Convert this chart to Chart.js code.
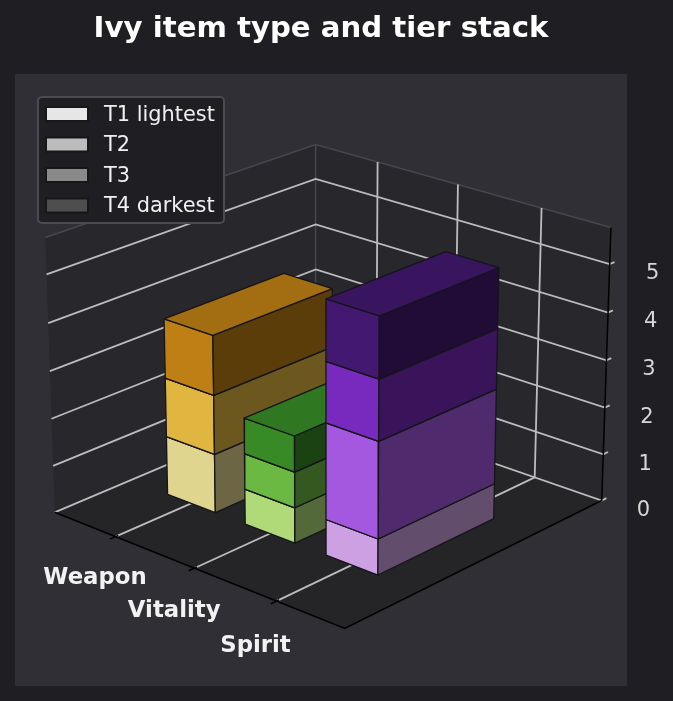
<!DOCTYPE html>
<html>
<head>
<meta charset="utf-8">
<title>Ivy item type and tier stack</title>
<script src="https://cdn.jsdelivr.net/npm/chart.js@4/dist/chart.umd.min.js"></script>
<style>
  html, body { margin: 0; padding: 0; background: #1f1f23; }
  canvas { display: block; }
</style>
</head>
<body>
<canvas id="chart" width="673" height="701"></canvas>
<script>
const categories = ['Weapon', 'Vitality', 'Spirit'];
const tierLabels = ['T1 lightest', 'T2', 'T3', 'T4 darkest'];
const t1Values = [1.25, 0.75, 0.75];
const t2Values = [1.25, 0.75, 2];
const t3Values = [1.25, 0.75, 1.25];
const t4Values = [0, 0, 1.25];
const zTicks = [0, 1, 2, 3, 4, 5];

const weaponColors = ['#e0d58e', '#e0b640', '#be8014', '#8a5c0c'];
const vitalityColors = ['#b0da78', '#6bb842', '#388a26', '#1d5a14'];
const spiritColors = ['#cca0e2', '#a458e0', '#782abe', '#421870'];
const legendColors = ['#e6e6e6', '#bcbcbc', '#8a8a8a', '#4e4e4e'];

const tiers = [t1Values, t2Values, t3Values, t4Values];
const palettes = [weaponColors, vitalityColors, spiritColors];

const xLim = [-0.8, 2.8];
const yLim = [-0.9, 0.9];
const zLim = [0, 5.75];
const barWidth = 0.62;
const barDepth = 0.81;

// camera, same model as a matplotlib 3d axes
const elev = 22 * Math.PI / 180;
const azim = -48 * Math.PI / 180;
const dist = 10;
const box = [1.1905, 1.1905, 0.8929];
const viewScale = 3308;
const viewCenter = [329.3, 371.7];

const w = [Math.cos(elev) * Math.cos(azim), Math.cos(elev) * Math.sin(azim), Math.sin(elev)];
const u = [-Math.sin(azim), Math.cos(azim), 0];
const v = [w[1] * u[2] - w[2] * u[1], w[2] * u[0] - w[0] * u[2], w[0] * u[1] - w[1] * u[0]];
const dot = (a, b) => a[0] * b[0] + a[1] * b[1] + a[2] * b[2];

function frac(value, lim) {
  return (value - lim[0]) / (lim[1] - lim[0]);
}

function project(x, y, z) {
  const p = [(frac(x, xLim) - 0.5) * box[0], (frac(y, yLim) - 0.5) * box[1], (frac(z, zLim) - 0.5) * box[2]];
  const depth = dist - dot(w, p);
  return {
    x: viewCenter[0] + viewScale * dot(u, p) / depth,
    y: viewCenter[1] - viewScale * dot(v, p) / depth,
  };
}

function shade(hex, factor) {
  const n = parseInt(hex.slice(1), 16);
  const c = [n >> 16, (n >> 8) & 255, n & 255].map(a => Math.round(a * factor));
  return `rgb(${c[0]},${c[1]},${c[2]})`;
}

const marks = [];

function polygon(points, fillColor, edgeColor, edgeWidth) {
  marks.push({
    data: [...points, points[0]],
    showLine: true,
    fill: 'shape',
    backgroundColor: fillColor,
    borderColor: edgeColor,
    borderWidth: edgeWidth,
    borderJoinStyle: 'round',
    pointRadius: 0,
    tension: 0,
  });
}

function line(points, color, width) {
  marks.push({
    data: points,
    showLine: true,
    fill: false,
    borderColor: color,
    borderWidth: width,
    pointRadius: 0,
    tension: 0,
  });
}

const [x0, x1] = xLim;
const [y0, y1] = yLim;
const [z0, z1] = zLim;

// panes
polygon([project(x0, y0, z0), project(x0, y1, z0), project(x1, y1, z0), project(x1, y0, z0)], '#252528', '#252528', 0);
polygon([project(x0, y0, z0), project(x0, y1, z0), project(x0, y1, z1), project(x0, y0, z1)], '#28282c', '#28282c', 0);
polygon([project(x0, y1, z0), project(x1, y1, z0), project(x1, y1, z1), project(x0, y1, z1)], '#28282c', '#28282c', 0);
line([project(x0, y0, z1), project(x0, y1, z1), project(x1, y1, z1)], '#47474d', 1.5);
line([project(x0, y1, z0), project(x0, y1, z1)], '#47474d', 1.5);

// grid
const gridColor = '#bcbcbe';
zTicks.forEach(z => {
  line([project(x0, y0, z), project(x0, y1, z), project(x1, y1, z), project(x1, y1 + 0.036, z)], gridColor, 1.8);
});
categories.forEach((name, i) => {
  line([project(i, y0, z0), project(i, y1, z0), project(i, y1, z1)], gridColor, 1.8);
});

// axis lines and x ticks
line([project(x0, y0, z0), project(x1, y0, z0), project(x1, y1, z0), project(x1, y1, z1)], '#000000', 1.5);
categories.forEach((name, i) => {
  line([project(i, y0 - 0.036, z0), project(i, y0 + 0.018, z0)], '#000000', 1.5);
});

// bars, back to front and bottom to top
const edgeColor = '#15151a';
categories.forEach((name, i) => {
  let base = 0;
  tiers.forEach((values, t) => {
    const height = values[i];
    if (!height) return;
    const top = base + height;
    const a = i - barWidth / 2;
    const b = i + barWidth / 2;
    const c = -barDepth / 2;
    const d = barDepth / 2;
    const color = palettes[i][t];
    polygon([project(a, c, base), project(b, c, base), project(b, c, top), project(a, c, top)], color, edgeColor, 1.3);
    polygon([project(b, c, base), project(b, d, base), project(b, d, top), project(b, c, top)], shade(color, 0.48), edgeColor, 1.3);
    polygon([project(a, c, top), project(b, c, top), project(b, d, top), project(a, d, top)], shade(color, 0.86), edgeColor, 1.3);
    base = top;
  });
});

const textPlugin = {
  id: 'textPlugin',
  afterLayout(chart) {
    // title is centred on the panel, not on the canvas
    chart.titleBlock.right = 642;
  },
  beforeDraw(chart) {
    const ctx = chart.ctx;
    ctx.save();
    ctx.fillStyle = '#1f1f23';
    ctx.fillRect(0, 0, 673, 701);
    ctx.fillStyle = '#2f2f35';
    ctx.fillRect(15, 74, 612, 612);
    ctx.restore();
  },
  afterDraw(chart) {
    const ctx = chart.ctx;
    const sx = chart.scales.x;
    const sy = chart.scales.y;
    ctx.save();
    ctx.textAlign = 'center';
    ctx.textBaseline = 'middle';

    ctx.font = '21px "DejaVu Sans"';
    ctx.fillStyle = '#d6d6d6';
    zTicks.forEach(z => {
      const p = project(x1 + 0.112 * (x1 - x0), y1 + 0.03 * (y1 - y0), z);
      ctx.fillText(String(z), sx.getPixelForValue(p.x), sy.getPixelForValue(p.y) + 2);
    });

    ctx.font = 'bold 22.8px "DejaVu Sans"';
    ctx.fillStyle = '#f2f2f2';
    categories.forEach((name, i) => {
      const p = project(i + 0.135 * (x1 - x0), y0 - 0.2086 * (y1 - y0), z0);
      // wider labels sit a little further right of their anchor
      const nudge = 0.13 * (ctx.measureText(name).width - 88) - 0.5;
      ctx.fillText(name, sx.getPixelForValue(p.x) + nudge, sy.getPixelForValue(p.y) - 0.5);
    });

    // legend
    ctx.fillStyle = '#1f1f23';
    ctx.strokeStyle = '#4b4b52';
    ctx.lineWidth = 2;
    ctx.beginPath();
    ctx.roundRect(38, 97, 186, 126, 4);
    ctx.fill();
    ctx.stroke();
    ctx.textAlign = 'left';
    ctx.font = '20.9px "DejaVu Sans"';
    tierLabels.forEach((label, t) => {
      const top = 107 + t * 30.5;
      ctx.fillStyle = legendColors[t];
      ctx.strokeStyle = '#17171a';
      ctx.lineWidth = 2;
      ctx.fillRect(46, top, 42, 14);
      ctx.strokeRect(46, top, 42, 14);
      ctx.fillStyle = '#f0f0f0';
      ctx.fillText(label, 104, top + 8.5);
    });
    ctx.restore();
  },
};

new Chart(document.getElementById('chart'), {
  type: 'scatter',
  data: { datasets: marks.reverse() },
  plugins: [textPlugin],
  options: {
    responsive: false,
    animation: false,
    devicePixelRatio: 1,
    layout: { padding: 0 },
    scales: {
      x: { display: false, min: 0, max: 673 },
      y: { display: false, reverse: true, min: 74, max: 701 },
    },
    plugins: {
      legend: { display: false },
      tooltip: { enabled: false },
      title: {
        display: true,
        text: 'Ivy item type and tier stack',
        color: '#ffffff',
        font: { family: '"DejaVu Sans"', size: 29.2, weight: 'bold', lineHeight: 1 },
        padding: { top: 15, bottom: 29.8 },
      },
    },
  },
});
</script>
</body>
</html>
